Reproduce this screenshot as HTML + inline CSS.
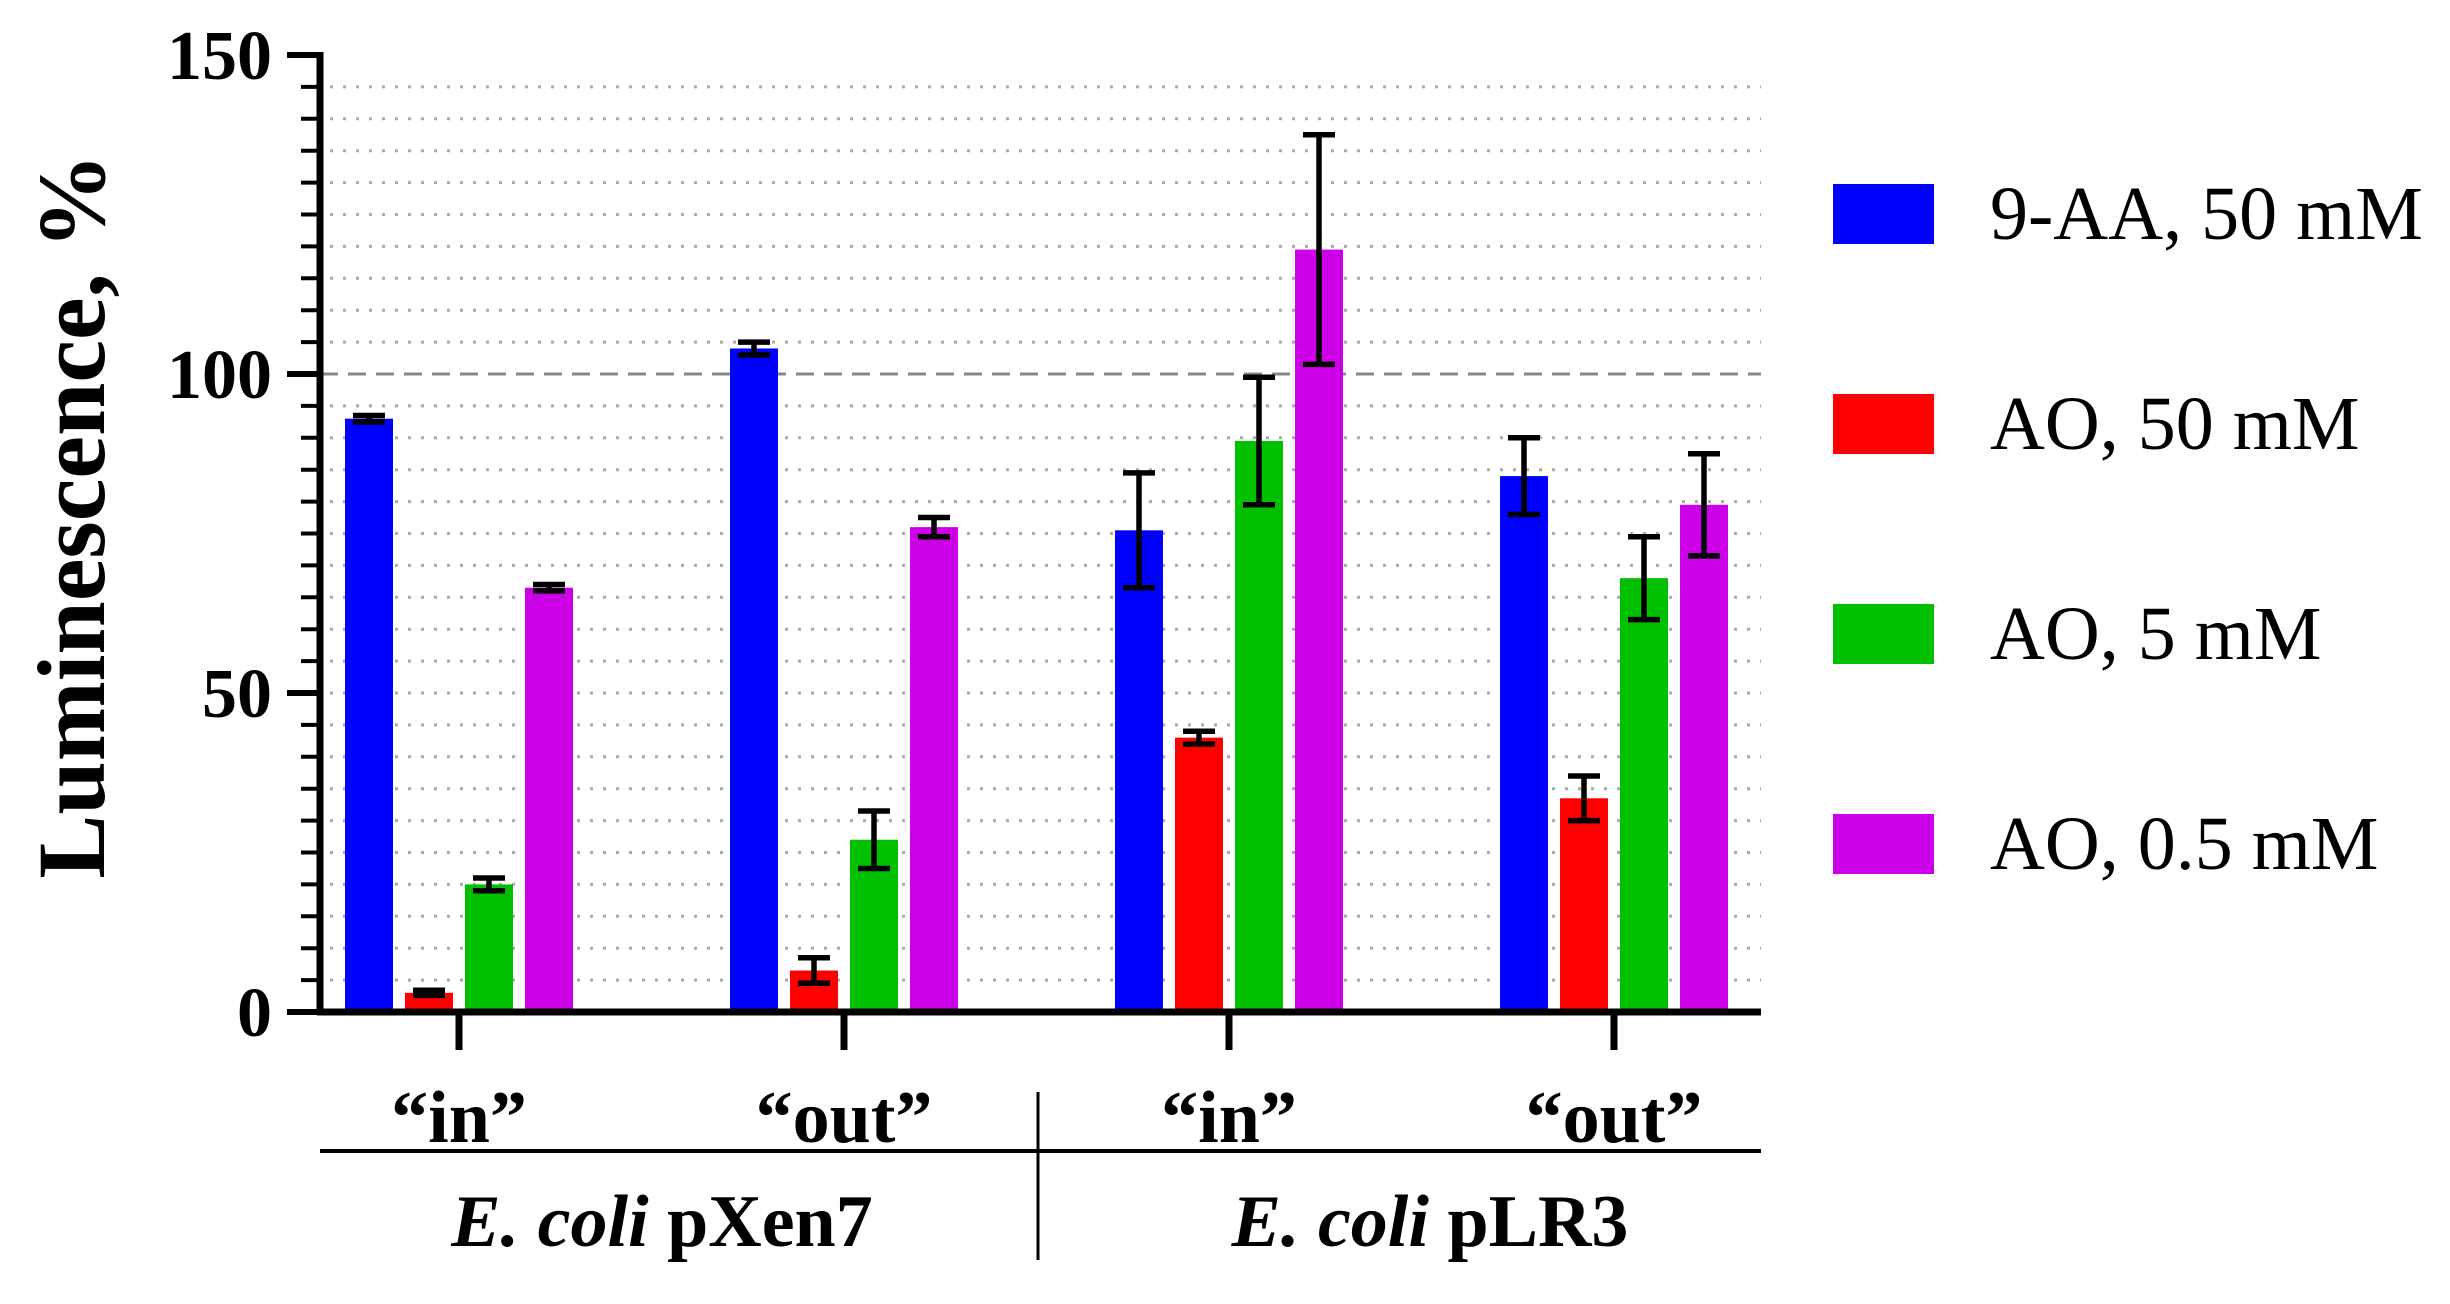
<!DOCTYPE html>
<html><head><meta charset="utf-8"><style>
html,body{margin:0;padding:0;background:#fff;}
svg text{font-family:"Liberation Serif",serif;}
</style></head><body>
<svg id="chart" width="2450" height="1299" viewBox="0 0 2450 1299" xmlns="http://www.w3.org/2000/svg">
<g id="grid"></g>
<g id="bars"></g>
<g id="axes"></g>
<text transform="translate(104,516) rotate(-90)" text-anchor="middle" font-size="96" font-weight="bold">Luminescence, %</text>
<g id="legend"></g>
<g font-size="74" font-weight="bold" text-anchor="middle">
<line x1="320" y1="1151" x2="1761" y2="1151" stroke="#000" stroke-width="4"/>
<line x1="1038" y1="1092" x2="1038" y2="1260" stroke="#000" stroke-width="3"/>
<text x="662" y="1246"><tspan font-style="italic">E. coli</tspan> pXen7</text>
<text x="1430" y="1246"><tspan font-style="italic">E. coli</tspan> pLR3</text>
</g>
</svg>
<script>
const categories = ['\u201cin\u201d','\u201cout\u201d','\u201cin\u201d','\u201cout\u201d'];
const seriesNames = ['9-AA, 50 mM','AO, 50 mM','AO, 5 mM','AO, 0.5 mM'];
const seriesColors = ['#0000ff','#ff0000','#00c000','#cc00e6'];
const vAA50 = [93, 104, 75.5, 84];
const eAA50 = [0.5, 1, 9, 6];
const vAO50 = [3, 6.5, 43, 33.5];
const eAO50 = [0.4, 2, 1, 3.5];
const vAO5 = [20, 27, 89.5, 68];
const eAO5 = [1, 4.5, 10, 6.5];
const vAO05 = [66.5, 76, 119.5, 79.5];
const eAO05 = [0.5, 1.5, 18, 8];
const yTicks = [0, 50, 100, 150];
const yTickLabels = ['0','50','100','150'];

const NS='http://www.w3.org/2000/svg';
const X0=320, X1=1761, Y0=1012, Ytop=55, YMAX=150;
const y = v => Y0 - (Y0-Ytop)*v/YMAX;
const groupX = i => 459 + i*385;
const barX = (g,s) => groupX(g) + (s-1.5)*60;
const BW=48;
function mk(tag, attrs, parent){const e=document.createElementNS(NS,tag);for(const k in attrs)e.setAttribute(k,attrs[k]);parent.appendChild(e);return e;}
const grid=document.getElementById('grid'), bars=document.getElementById('bars'), axes=document.getElementById('axes'), legend=document.getElementById('legend');

for(let v=5; v<=YMAX; v+=5){
  if(v===100){
    const l=mk('line',{x1:X0,x2:X1,y1:y(v),y2:y(v),stroke:'#888','stroke-width':3,'stroke-dasharray':'18 10'},grid);
    
    
  } else if(v<YMAX){
    const l=mk('line',{x1:X0+10,x2:X1,y1:y(v),y2:y(v),stroke:'#aaa','stroke-width':3,'stroke-dasharray':'3 10'},grid);
    
    
  }
}

const vals=[vAA50,vAO50,vAO5,vAO05], errs=[eAA50,eAO50,eAO5,eAO05];
for(let g=0; g<categories.length; g++){
  for(let s=0; s<4; s++){
    const cx=barX(g,s), v=vals[s][g], e=errs[s][g];
    const r=mk('rect',{x:cx-BW/2,y:y(v),width:BW,height:Y0-y(v),fill:seriesColors[s]},bars);
    
    
    const eg=mk('g',{stroke:'#000','stroke-width':5.5},bars);
    
    
    mk('line',{x1:cx,x2:cx,y1:y(v+e),y2:y(v-e)},eg);
    mk('line',{x1:cx-16,x2:cx+16,y1:y(v+e),y2:y(v+e)},eg);
    mk('line',{x1:cx-16,x2:cx+16,y1:y(v-e),y2:y(v-e)},eg);
  }
  const t=mk('line',{x1:groupX(g),x2:groupX(g),y1:Y0,y2:1050,stroke:'#000','stroke-width':7},axes);
  
  
  const lb=mk('text',{x:groupX(g),y:1142,'text-anchor':'middle','font-size':74,'font-weight':'bold'},axes);
  lb.textContent=categories[g];
  
  
}

const ya=mk('line',{x1:X0,x2:X0,y1:Ytop-3,y2:Y0+3,stroke:'#000','stroke-width':7},axes);


const xa=mk('line',{x1:X0-3,x2:X1,y1:Y0,y2:Y0,stroke:'#000','stroke-width':7},axes);


for(let v=0; v<=YMAX; v+=5){
  const major=v%50===0;
  const t=mk('line',{x1:major?X0-33:X0-19,x2:X0,y1:y(v),y2:y(v),stroke:'#000','stroke-width':major?6:4},axes);
  
  
}
yTicks.forEach((v,i)=>{
  const t=mk('text',{x:272,y:y(v)+24,'text-anchor':'end','font-size':70,'font-weight':'bold'},axes);
  t.textContent=yTickLabels[i];
  
  
});

seriesNames.forEach((n,i)=>{
  const cy=214+i*210;
  const g=mk('g',{},legend);
  
  
  mk('rect',{x:1833,y:cy-30,width:101,height:60,fill:seriesColors[i]},g);
  const t=mk('text',{x:1990,y:cy+25,'font-size':76},g);
  t.textContent=n;
});
</script>
</body></html>
